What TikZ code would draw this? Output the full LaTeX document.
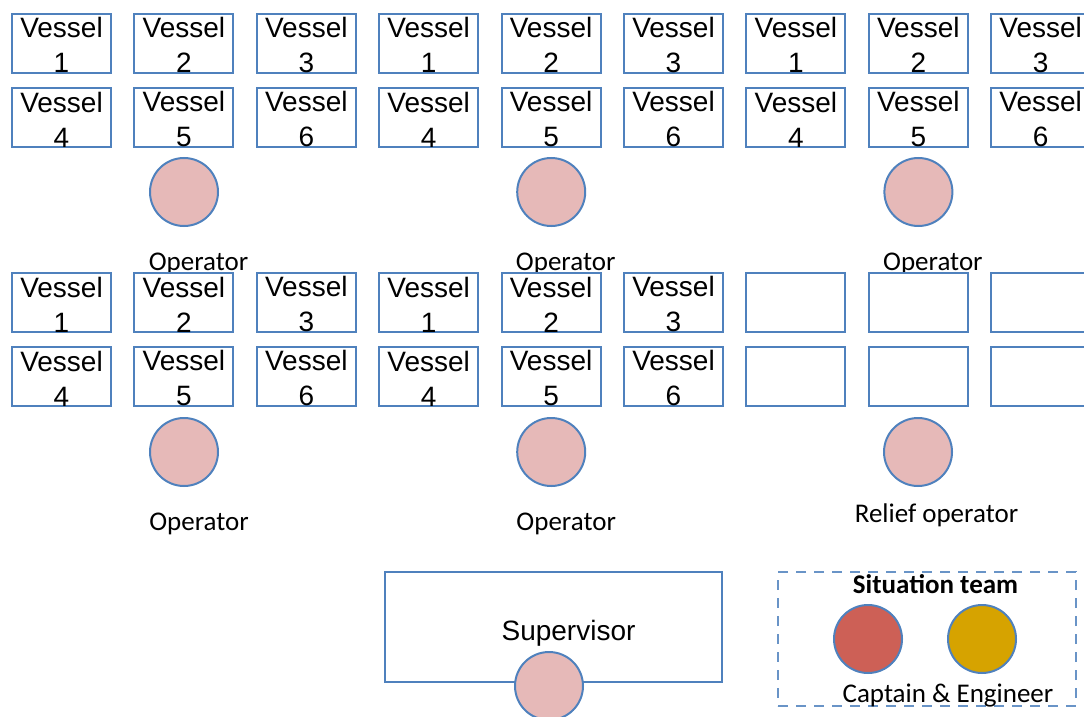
\documentclass[tikz,border=0pt]{standalone}
\usepackage{fontspec}
\setmainfont{Carlito}
\newfontfamily\arialfont{Liberation Sans}
\usepackage{tikz}
\usetikzlibrary{positioning}
\usepackage{xcolor}
\definecolor{boxblue}{RGB}{79,129,189}
\definecolor{oppink}{RGB}{230,185,184}
\definecolor{capred}{RGB}{205,96,86}
\definecolor{enggold}{RGB}{214,163,0}

\begin{document}
\begin{tikzpicture}[x=1pt,y=-1pt,
  vessel/.style={draw=boxblue,line width=2pt,fill=white,minimum width=99pt,
    minimum height=59pt,inner sep=0pt,align=center,
    font=\arialfont\fontsize{28}{35}\selectfont},
  person/.style={circle,draw=boxblue,line width=2pt,fill=#1,minimum size=68pt,inner sep=0pt},
  person/.default=oppink,
  lbl/.style={font=\fontsize{27}{30}\selectfont,inner sep=0pt}]
  \path[use as bounding box,clip] (0,0) rectangle (1084,717);

  % 上段の三つの組
  \foreach \g in {0,1,2} {
    \foreach \c in {0,1,2} {
      \pgfmathsetmacro{\xx}{61.5+122.4*(3*\g+\c)}
      \pgfmathtruncatemacro{\na}{\c+1}
      \pgfmathtruncatemacro{\nb}{\c+4}
      \node[vessel] (ta-\g-\c) at (\xx,43.5) {\rule{0pt}{24pt}Vessel\\\na};
      \node[vessel] (tb-\g-\c) at (\xx,117.5) {\rule{0pt}{24pt}Vessel\\\nb};
    }
    \node[person] (top-\g) at ({184+367.2*\g},192) {};
    \node[lbl,anchor=base] (toplbl-\g) at ({198.5+367.2*\g},270) {Operator};
  }

  % 下段の三つの組
  \foreach \g in {0,1} {
    \foreach \c in {0,1,2} {
      \pgfmathsetmacro{\xx}{61.5+122.4*(3*\g+\c)}
      \pgfmathtruncatemacro{\na}{\c+1}
      \pgfmathtruncatemacro{\nb}{\c+4}
      \node[vessel] (ba-\g-\c) at (\xx,302.5) {\rule{0pt}{24pt}Vessel\\\na};
      \node[vessel] (bb-\g-\c) at (\xx,376.5) {\rule{0pt}{24pt}Vessel\\\nb};
    }
    \node[person] (bot-\g) at ({184+367.2*\g},452) {};
    \node[lbl,anchor=base] (botlbl-\g) at ({199+367.2*\g},530) {Operator};
  }
  \foreach \c in {0,1,2} {
    \pgfmathsetmacro{\xx}{61.5+122.4*(6+\c)}
    \node[vessel] (ba-2-\c) at (\xx,302.5) {};
    \node[vessel] (bb-2-\c) at (\xx,376.5) {};
  }
  \node[person] (bot-2) at (918,452) {};
  \node[lbl,anchor=base] (botlbl-2) at (936.5,522) {Relief operator};

  % 監督者
  \node[draw=boxblue,line width=2pt,minimum width=337pt,minimum height=110pt] (sup) at (553.5,627) {};
  \node[anchor=base,inner sep=0pt,font=\arialfont\fontsize{28}{34}\selectfont] (suplbl) at (568.5,640) {Supervisor};
  \node[person] (supop) at (549,686) {};

  % 状況チーム
  \node[draw=boxblue!85,line width=2pt,dash pattern=on 10pt off 8pt,
    minimum width=298pt,minimum height=134pt] (team) at (927,639) {};
  \node[lbl,anchor=base,font=\bfseries\fontsize{27}{30}\selectfont] (teamlbl) at (935.5,593) {Situation team};
  \node[person=capred] (captain) at (868,639) {};
  \node[person=enggold] (engineer) at (982,639) {};
  \node[lbl,anchor=base] (crewlbl) at (948,702) {Captain \& Engineer};
\end{tikzpicture}
\end{document}
